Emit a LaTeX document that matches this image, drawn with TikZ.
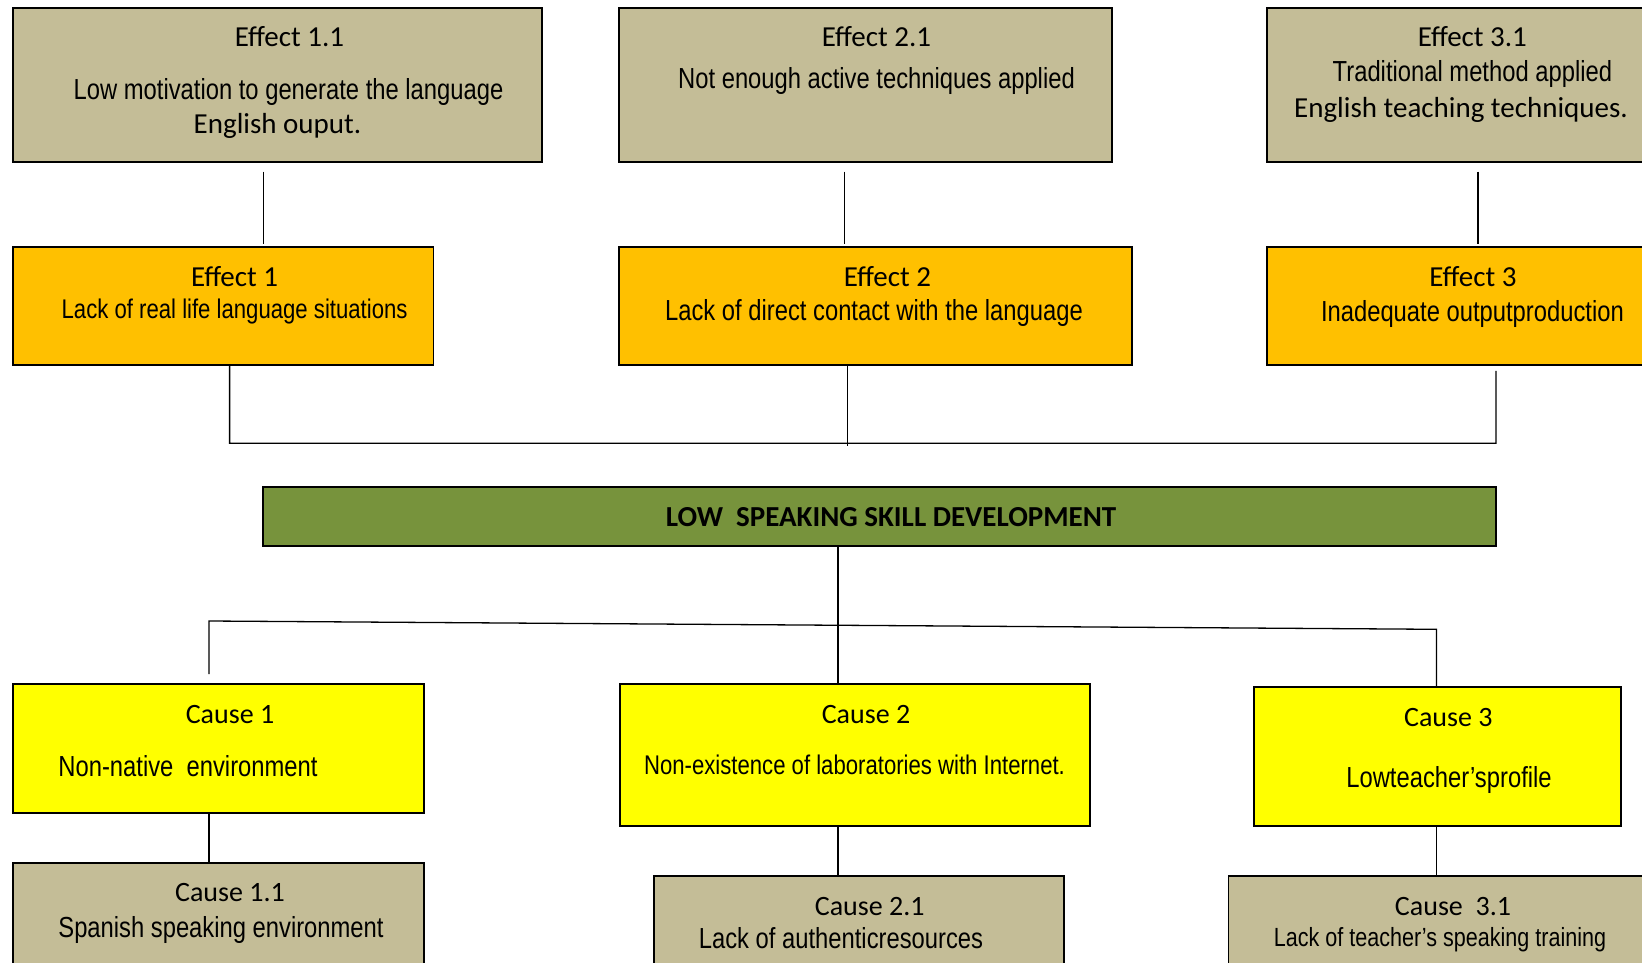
\documentclass[tikz,border=0pt]{standalone}
\usepackage{fontspec}
\usetikzlibrary{calc}
\newfontfamily\calib{Carlito}
\newfontfamily\narrow[FakeStretch=0.82]{Liberation Sans}
\definecolor{tanc}{HTML}{C4BD97}
\definecolor{orangec}{HTML}{FFC000}
\definecolor{greenc}{HTML}{77933C}
\definecolor{yellowc}{HTML}{FFFF00}
\begin{document}
\begin{tikzpicture}[x=1pt,y=-1pt,
  boxbase/.style={draw=black, line width=1.8pt, inner sep=0pt, outer sep=0pt},
  tanbox/.style={boxbase, fill=tanc},
  orabox/.style={boxbase, fill=orangec},
  grnbox/.style={boxbase, fill=greenc},
  yelbox/.style={boxbase, fill=yellowc},
  lbl/.style={inner sep=0pt, anchor=base},
  cal/.style={lbl, font=\calib\fontsize{29}{34}\selectfont},
  calc28/.style={lbl, font=\calib\fontsize{28}{34}\selectfont},
  calbold/.style={lbl, font=\calib\bfseries\fontsize{29}{34}\selectfont},
  nar/.style={lbl, font=\narrow\fontsize{29}{34}\selectfont},
  narsm/.style={lbl, font=\narrow\fontsize{27}{32}\selectfont},
  narxs/.style={lbl, font=\narrow\fontsize{26.3}{31}\selectfont},
  conn/.style={line width=1.3pt}]
\useasboundingbox (0,0) rectangle (1642,963);
\clip (0,0) rectangle (1642,963);

% Effect boxes
\node[tanbox, minimum width=529pt, minimum height=154pt] (e11) at (277.4,85.3) {};
\node[tanbox, minimum width=493pt, minimum height=154pt] (e21) at (865.5,85.3) {};
\node[tanbox, minimum width=393pt, minimum height=154pt] (e31) at (1463.6,85.3) {};
\node[orabox, minimum width=420.7pt, minimum height=117.7pt] (e1) at (223.2,306.1) {};
\node[orabox, minimum width=513pt, minimum height=117.7pt] (e2) at (875.5,306.1) {};
\node[orabox, minimum width=393pt, minimum height=117.7pt] (e3) at (1463.6,306.1) {};

% Main problem
\node[grnbox, minimum width=1233pt, minimum height=58.7pt] (main) at (879.5,516.3) {};

% Cause boxes
\node[yelbox, minimum width=410.6pt, minimum height=128.4pt] (c1) at (218.3,748.5) {};
\node[yelbox, minimum width=470.2pt, minimum height=141.7pt] (c2) at (854.9,755.2) {};
\node[yelbox, minimum width=367.4pt, minimum height=138.7pt] (c3) at (1437.3,756.7) {};
\node[tanbox, minimum width=410.6pt, minimum height=127.3pt] (c11) at (218.3,926.4) {};
\node[tanbox, minimum width=410pt, minimum height=114pt] (c21) at (858.8,933) {};
\node[tanbox, minimum width=431.6pt, minimum height=114pt] (c31) at (1444.2,933) {};

% Texts
\node[cal] (t11a) at (289.5,46.7) {Effect 1.1};
\node[nar] (t11b) at (288.5,100) {Low motivation to generate the language};
\node[cal] (t11c) at (277.5,134) {English ouput.};
\node[cal] (t21a) at (876.5,46.7) {Effect 2.1};
\node[nar] (t21b) at (876.5,88.3) {Not enough active techniques applied};
\node[cal] (t31a) at (1472.4,46.7) {Effect 3.1};
\node[nar] (t31b) at (1472.4,81.7) {Traditional method applied};
\node[cal] (t31c) at (1461,117.3) {English teaching techniques.};
\node[cal] (t1a) at (234.6,286) {Effect 1};
\node[narsm] (t1b) at (234.6,318) {Lack of real life language situations};
\node[cal] (t2a) at (887.5,286) {Effect 2};
\node[nar] (t2b) at (874,320.7) {Lack of direct contact with the language};
\node[cal] (t3a) at (1473,286) {Effect 3};
\node[nar] (t3b) at (1472.4,321.7) {Inadequate outputproduction};
\node[calbold] (tm) at (891,526) {LOW\ \ SPEAKING SKILL DEVELOPMENT};
\node[calc28] (tc1a) at (230,723.3) {Cause 1};
\node[nar] (tc1b) at (188,776.7) {Non-native\ \ environment};
\node[calc28] (tc2a) at (866,723.3) {Cause 2};
\node[narsm] (tc2b) at (854.5,774.3) {Non-existence of laboratories with Internet.};
\node[calc28] (tc3a) at (1448.3,726) {Cause 3};
\node[nar] (tc3b) at (1449,787.3) {Lowteacher’sprofile};
\node[calc28] (tc11a) at (230,901.7) {Cause 1.1};
\node[nar] (tc11b) at (221,937.3) {Spanish speaking environment};
\node[calc28] (tc21a) at (869.7,915) {Cause 2.1};
\node[nar] (tc21b) at (841,948.3) {Lack of authenticresources};
\node[calc28] (tc31a) at (1453,915) {Cause\ \ 3.1};
\node[narxs] (tc31b) at (1440,946.7) {Lack of teacher’s speaking training};

% Connectors: effects
\draw[conn] ($(e11.south)+(-13.8,9.4)$) -- ($(e1.north)+(40.4,-3)$);
\draw[conn] ($(e21.south)+(-21.2,9.4)$) -- ($(e2.north)+(-31.2,-3)$);
\draw[conn] ($(e31.south)+(14.4,9.4)$) -- ($(e3.north)+(14.4,-3)$);
\coordinate (bl) at (229.6,443.3);
\coordinate (br) at (1496,443.3);
\draw[conn] ($(e1.south)+(6.4,0)$) -- (bl) -- (br) -- ($(e3.south)+(32.4,6)$);
\draw[conn] ($(e2.south)+(-28,0)$) -- ($(e2.south)+(-28,81)$);

% Connectors: causes
\draw[conn] ($(main.south)+(-41.5,0)$) -- ($(c2.north)+(-16.9,0)$);
\coordinate (sl) at (209,621);
\coordinate (sr) at (1436.5,629.3);
\draw[conn] ($(c1.north)+(-9.3,-10.3)$) -- (sl) -- (sr) -- ($(c3.north)+(-0.8,0)$);
\draw[conn] ($(c1.south)+(-9.3,0)$) -- ($(c11.north)+(-9.3,0)$);
\draw[conn] ($(c2.south)+(-16.9,0)$) -- ($(c21.north)+(-20.8,0)$);
\draw[conn] ($(c3.south)+(-0.8,0)$) -- ($(c31.north)+(-7.7,0)$);
\end{tikzpicture}
\end{document}
